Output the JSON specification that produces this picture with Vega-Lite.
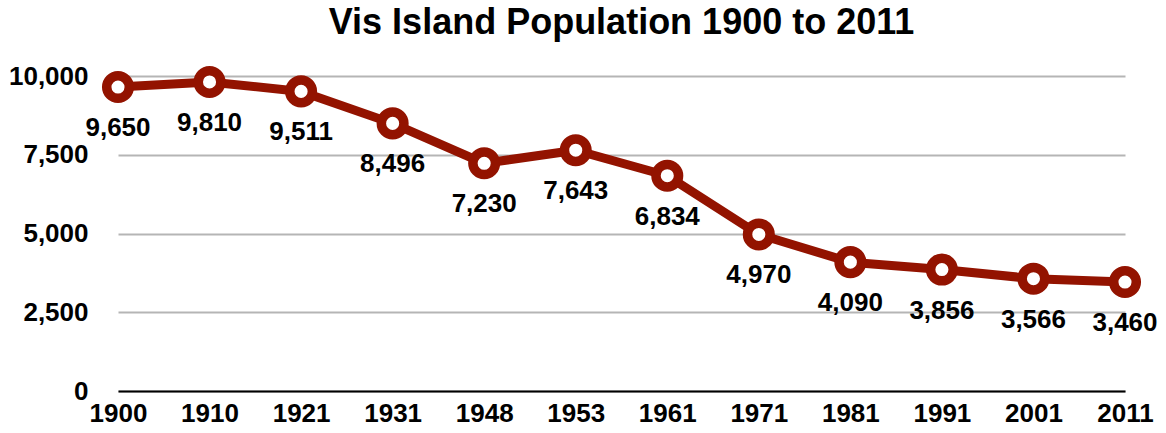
{
  "$schema": "https://vega.github.io/schema/vega-lite/v6.json",
  "autosize": {"type": "none"},
  "padding": {"left": 118, "top": 76, "right": 41, "bottom": 42},
  "width": 1007,
  "height": 315,
  "background": "white",
  "view": {"stroke": null},
  "title": {
    "text": "Vis Island Population 1900 to 2011",
    "font": "Liberation Sans",
    "fontSize": 36,
    "fontWeight": "bold",
    "color": "black",
    "anchor": "middle",
    "offset": 10
  },
  "data": {
    "values": [
      {"year": "1900", "population": 9650},
      {"year": "1910", "population": 9810},
      {"year": "1921", "population": 9511},
      {"year": "1931", "population": 8496},
      {"year": "1948", "population": 7230},
      {"year": "1953", "population": 7643},
      {"year": "1961", "population": 6834},
      {"year": "1971", "population": 4970},
      {"year": "1981", "population": 4090},
      {"year": "1991", "population": 3856},
      {"year": "2001", "population": 3566},
      {"year": "2011", "population": 3460}
    ]
  },
  "encoding": {
    "x": {
      "field": "year",
      "type": "ordinal",
      "sort": null,
      "scale": {"type": "point", "padding": 0},
      "axis": {
        "title": null,
        "labelAngle": 0,
        "labelFont": "Liberation Sans",
        "labelFontSize": 26,
        "labelFontWeight": "bold",
        "labelColor": "black",
        "labelPadding": 9,
        "ticks": false,
        "domainColor": "black",
        "domainWidth": 2,
        "grid": false
      }
    },
    "y": {
      "field": "population",
      "type": "quantitative",
      "scale": {"domain": [0, 10000], "nice": false, "zero": true},
      "axis": {
        "title": null,
        "values": [0, 2500, 5000, 7500, 10000],
        "format": ",d",
        "labelFont": "Liberation Sans",
        "labelFontSize": 26,
        "labelFontWeight": "bold",
        "labelColor": "black",
        "labelPadding": 30,
        "ticks": false,
        "domain": false,
        "grid": true,
        "gridColor": "#b5b5b5",
        "gridWidth": 2
      }
    }
  },
  "layer": [
    {
      "mark": {"type": "line", "color": "#931300", "strokeWidth": 9, "strokeJoin": "round"}
    },
    {
      "mark": {"type": "point", "shape": "circle", "filled": false, "fill": "white", "fillOpacity": 1, "stroke": "#931300", "strokeWidth": 9.5, "size": 510, "opacity": 1}
    },
    {
      "mark": {"type": "text", "dy": 41, "font": "Liberation Sans", "fontSize": 26, "fontWeight": "bold", "color": "black", "baseline": "middle", "align": "center"},
      "encoding": {"text": {"field": "population", "type": "quantitative", "format": ",d"}}
    }
  ]
}
